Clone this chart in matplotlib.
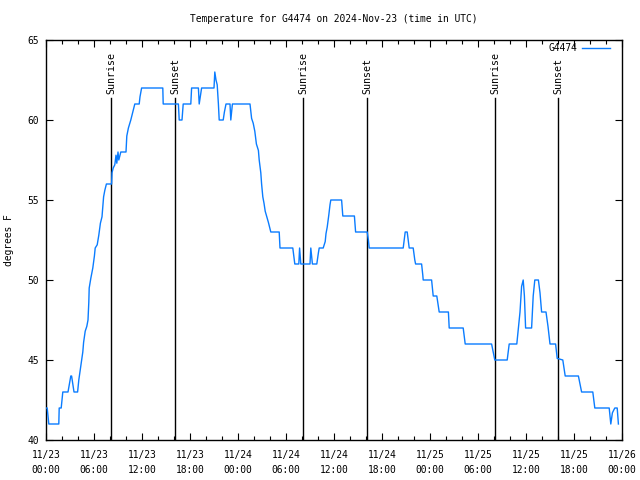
import numpy as np
import matplotlib
matplotlib.use("Agg")
import matplotlib.pyplot as plt
from matplotlib.ticker import MultipleLocator

# ---- data (hours since 2024-11-23 00:00 UTC, temperature in F) ----
hours = [0.0, 0.15, 0.35, 1.6, 1.65, 1.9, 2.1, 2.75, 3.1, 3.2, 3.5, 3.95,
         4.1, 4.4, 4.6, 4.7, 4.9, 5.1, 5.25, 5.35, 5.4, 5.6, 5.85, 6.05, 6.15,
         6.4, 6.6, 6.8, 7.0, 7.1, 7.2, 7.35, 7.55, 8.2,
         8.25, 8.4, 8.6, 8.75, 8.85, 9.0, 9.1, 9.35, 10.0, 10.1, 10.3, 10.6,
         10.9, 11.1, 11.65, 11.75, 11.95, 14.6, 14.65, 16.55, 16.65, 17.0,
         17.15, 18.1, 18.2, 19.05, 19.15, 19.45, 21.0, 21.1, 21.25, 21.4,
         21.55, 21.65, 22.15, 22.3, 22.5, 23.0, 23.1, 23.3, 25.5,
         25.7, 25.9, 26.1, 26.3, 26.55, 26.65, 26.85, 26.95, 27.1, 27.25,
         27.4, 27.6, 27.8, 28.1, 29.15, 29.25, 30.85, 30.95, 31.1, 31.6,
         31.7, 31.85, 33.0, 33.1, 33.3, 33.85, 34.05, 34.15, 34.65, 34.9,
         35.0, 35.15, 35.35, 35.5, 35.6, 36.95, 37.1, 38.55, 38.7, 40.15,
         40.3, 40.4, 44.65, 44.9, 45.15, 45.4, 45.9, 46.1, 46.2, 46.95, 47.1,
         47.15, 48.2, 48.4, 48.85, 49.15, 50.3, 50.4, 52.15, 52.4, 55.7,
         55.9, 56.1, 57.65, 57.9, 58.85, 59.05, 59.25, 59.45, 59.65, 59.8,
         59.95, 60.7, 60.9, 61.1, 61.55, 61.75, 61.95, 62.5, 62.75, 63.0,
         63.7, 63.9, 64.6, 64.9, 66.55, 66.95, 68.35, 68.6, 70.4, 70.6, 70.8,
         71.1, 71.4, 71.55]
temps = [42, 42, 41, 41, 42, 42, 43, 43, 44, 44, 43, 43,
         43.75, 44.8, 45.5, 46.1, 46.8, 47.1, 47.5, 48.6, 49.5, 50.1, 50.75, 51.5, 52,
         52.2, 52.8, 53.55, 53.95, 54.6, 55.2, 55.6, 56, 56,
         56.7, 57, 57.2, 57.8, 57.3, 58, 57.5, 58, 58, 59, 59.5, 60,
         60.6, 61, 61, 61.45, 62, 62, 61, 61, 60, 60,
         61, 61, 62, 62, 61, 62, 62, 63, 62.5, 62.2,
         61, 60, 60, 60.5, 61, 61, 60, 61, 61,
         60.1, 59.8, 59.3, 58.5, 58.1, 57.5, 56.7, 56, 55.2, 54.8,
         54.3, 53.95, 53.6, 53, 53, 52, 52, 51.6, 51, 51,
         52, 51, 51, 52, 51, 51, 51.7, 52, 52, 52.4,
         52.9, 53.3, 54.06, 54.7, 55, 55, 54, 54, 53, 53,
         52.5, 52, 52, 53, 53, 52, 52, 51.25, 51, 51, 50.3,
         50, 50, 49, 49, 48, 48, 47, 47, 46, 46,
         45.5, 45, 45, 46, 46, 47, 48, 49.6, 50, 49,
         47, 47, 49, 50, 50, 49.2, 48, 48, 47.1, 46,
         46, 45.1, 45, 44, 44, 43, 43, 42, 42, 41, 41.7,
         42, 42, 41]

sun_times = [8.125, 16.15, 32.17, 40.17, 56.17, 64.04]
sun_labels = ["Sunrise", "Sunset", "Sunrise", "Sunset", "Sunrise", "Sunset"]

xtick_hours = [0, 6, 12, 18, 24, 30, 36, 42, 48, 54, 60, 66, 72]
xtick_labels = ["11/23\n00:00", "11/23\n06:00", "11/23\n12:00", "11/23\n18:00",
                "11/24\n00:00", "11/24\n06:00", "11/24\n12:00", "11/24\n18:00",
                "11/25\n00:00", "11/25\n06:00", "11/25\n12:00", "11/25\n18:00",
                "11/26\n00:00"]
yticks = [40, 45, 50, 55, 60, 65]

title = "Temperature for G4474 on 2024-Nov-23 (time in UTC)"
series_name = "G4474"

# ---- drawing ----
plt.rcParams['font.family'] = ['DejaVu Sans Mono']
FS = 6.9

fig = plt.figure(figsize=(6.4, 4.8), dpi=100)
ax = fig.add_axes([46/640, 40/480, 576/640, 400/480])

ax.plot(hours, temps, color='#0a7cff', lw=1.0, label=series_name, zorder=3)

for t, lab in zip(sun_times, sun_labels):
    ax.plot([t, t], [40, 61.35], color='black', lw=1.0, zorder=2)
    ax.text(t, 61.6, lab, rotation=90, ha='center', va='bottom',
            fontsize=FS + 0.3, color='black')

ax.set_xlim(0, 72)
ax.set_ylim(40, 65)
ax.set_xticks(xtick_hours)
ax.set_xticklabels(xtick_labels, fontsize=FS, linespacing=1.65)
ax.xaxis.set_minor_locator(MultipleLocator(2))
ax.set_yticks(yticks)
ax.set_yticklabels([str(v) for v in yticks], fontsize=FS)

ax.tick_params(which='both', direction='in', top=True, right=True, width=0.8)
ax.tick_params(which='major', length=5, pad=5)
ax.tick_params(which='minor', length=3)
ax.tick_params(axis='x', which='major', pad=7)
for s in ax.spines.values():
    s.set_linewidth(1.0)

ax.set_ylabel("degrees F", fontsize=FS)
ax.yaxis.set_label_coords((14 - 46) / 576, 0.5)
fig.text(334/640, 1 - 19/480, title, ha='center', va='center', fontsize=FS)

leg = ax.legend(loc='upper right', frameon=False, fontsize=FS,
                handlelength=2.9, markerfirst=False, borderaxespad=0.0,
                borderpad=0.0, handletextpad=0.5,
                bbox_to_anchor=((610 - 46) / 576, (440 - 43) / 400))

fig.savefig("out.png", dpi=100)
